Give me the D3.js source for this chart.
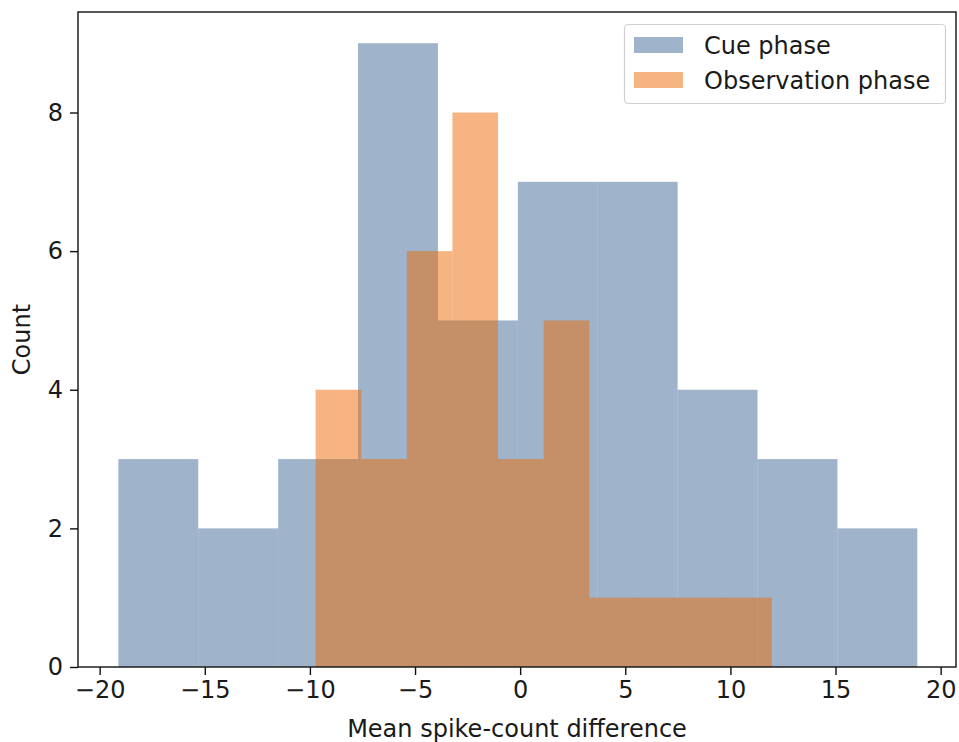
<!DOCTYPE html>
<html>
<head>
<meta charset="utf-8">
<script src="https://cdn.jsdelivr.net/npm/d3@7"></script>
<style>
  html, body { margin: 0; padding: 0; background: #fff; }
  svg text { font-family: "DejaVu Sans", sans-serif; fill: #1a1a1a; }
</style>
</head>
<body>
<svg id="chart" width="959" height="742"></svg>
<script>
// ---- data ----
const cueEdges = [-19.11, -15.31, -11.51, -7.71, -3.91, -0.11, 3.69, 7.49, 11.29, 15.09, 18.89];
const cueCounts = [3, 2, 3, 9, 5, 7, 7, 4, 3, 2];
const obsEdges = [-9.73, -7.56, -5.39, -3.22, -1.05, 1.12, 3.29, 5.46, 7.63, 9.80, 11.97];
const obsCounts = [4, 3, 6, 8, 3, 5, 1, 1, 1, 1];
const xTicks = [-20, -15, -10, -5, 0, 5, 10, 15, 20];
const yTicks = [0, 2, 4, 6, 8];
const seriesNames = ["Cue phase", "Observation phase"];
const xLabel = "Mean spike-count difference";
const yLabel = "Count";

// ---- layout ----
const svg = d3.select("#chart");
const L = 78, R = 956, T = 12, B = 667;
const fs = 24;

const x = d3.scaleLinear().domain([-21.03, 20.73]).range([L, R]);
const y = d3.scaleLinear().domain([0, 9.45]).range([B, T]);

const colBlue = "rgb(64,106,152)";
const colOrange = "rgb(236,106,4)";

function bins(edges, counts) {
  return counts.map((c, i) => ({ x0: edges[i], x1: edges[i + 1], c }));
}

const g = svg.append("g");
g.selectAll("rect.cue").data(bins(cueEdges, cueCounts)).enter().append("rect")
  .attr("class", "cue")
  .attr("x", d => x(d.x0)).attr("width", d => x(d.x1) - x(d.x0))
  .attr("y", d => y(d.c)).attr("height", d => y(0) - y(d.c))
  .attr("fill", colBlue).attr("fill-opacity", 0.5);
g.selectAll("rect.obs").data(bins(obsEdges, obsCounts)).enter().append("rect")
  .attr("class", "obs")
  .attr("x", d => x(d.x0)).attr("width", d => x(d.x1) - x(d.x0))
  .attr("y", d => y(d.c)).attr("height", d => y(0) - y(d.c))
  .attr("fill", colOrange).attr("fill-opacity", 0.5);

// axes
const xAxis = d3.axisBottom(x).tickValues(xTicks).tickSize(8).tickPadding(6)
  .tickFormat(d => d < 0 ? "\u2212" + Math.abs(d) : String(d));
const gx = svg.append("g").attr("transform", `translate(0,${B})`).call(xAxis);
const yAxis = d3.axisLeft(y).tickValues(yTicks).tickSize(8).tickPadding(7);
const gy = svg.append("g").attr("transform", `translate(${L},0)`).call(yAxis);
[gx, gy].forEach(a => {
  a.select(".domain").remove();
  a.selectAll(".tick line").attr("stroke", "#111").attr("stroke-width", 1.4);
  a.selectAll(".tick text").style("font-size", fs + "px").attr("fill", "#1a1a1a")
    .style("font-family", '"DejaVu Sans", sans-serif');
});

// frame
svg.append("rect").attr("x", L).attr("y", T).attr("width", R - L).attr("height", B - T)
  .attr("fill", "none").attr("stroke", "#111").attr("stroke-width", 1.4);

// labels
svg.append("text").attr("x", 517).attr("y", 737).attr("text-anchor", "middle")
  .style("font-size", fs + "px").text(xLabel);
svg.append("text").attr("transform", `translate(30,${(T + B) / 2}) rotate(-90)`)
  .attr("text-anchor", "middle").style("font-size", fs + "px").text(yLabel);

// legend
const lg = svg.append("g");
lg.append("rect").attr("x", 624.5).attr("y", 24.5).attr("width", 321).attr("height", 79)
  .attr("rx", 4).attr("fill", "#fff").attr("fill-opacity", 0.8)
  .attr("stroke", "#d0d0d0").attr("stroke-width", 1.2);
const legColors = [colBlue, colOrange];
seriesNames.forEach((n, i) => {
  lg.append("rect").attr("x", 634).attr("y", 37 + i * 35).attr("width", 49).attr("height", 16)
    .attr("fill", legColors[i]).attr("fill-opacity", 0.5);
  lg.append("text").attr("x", 704).attr("y", 54 + i * 35).style("font-size", fs + "px").text(n);
});
</script>
</body>
</html>
